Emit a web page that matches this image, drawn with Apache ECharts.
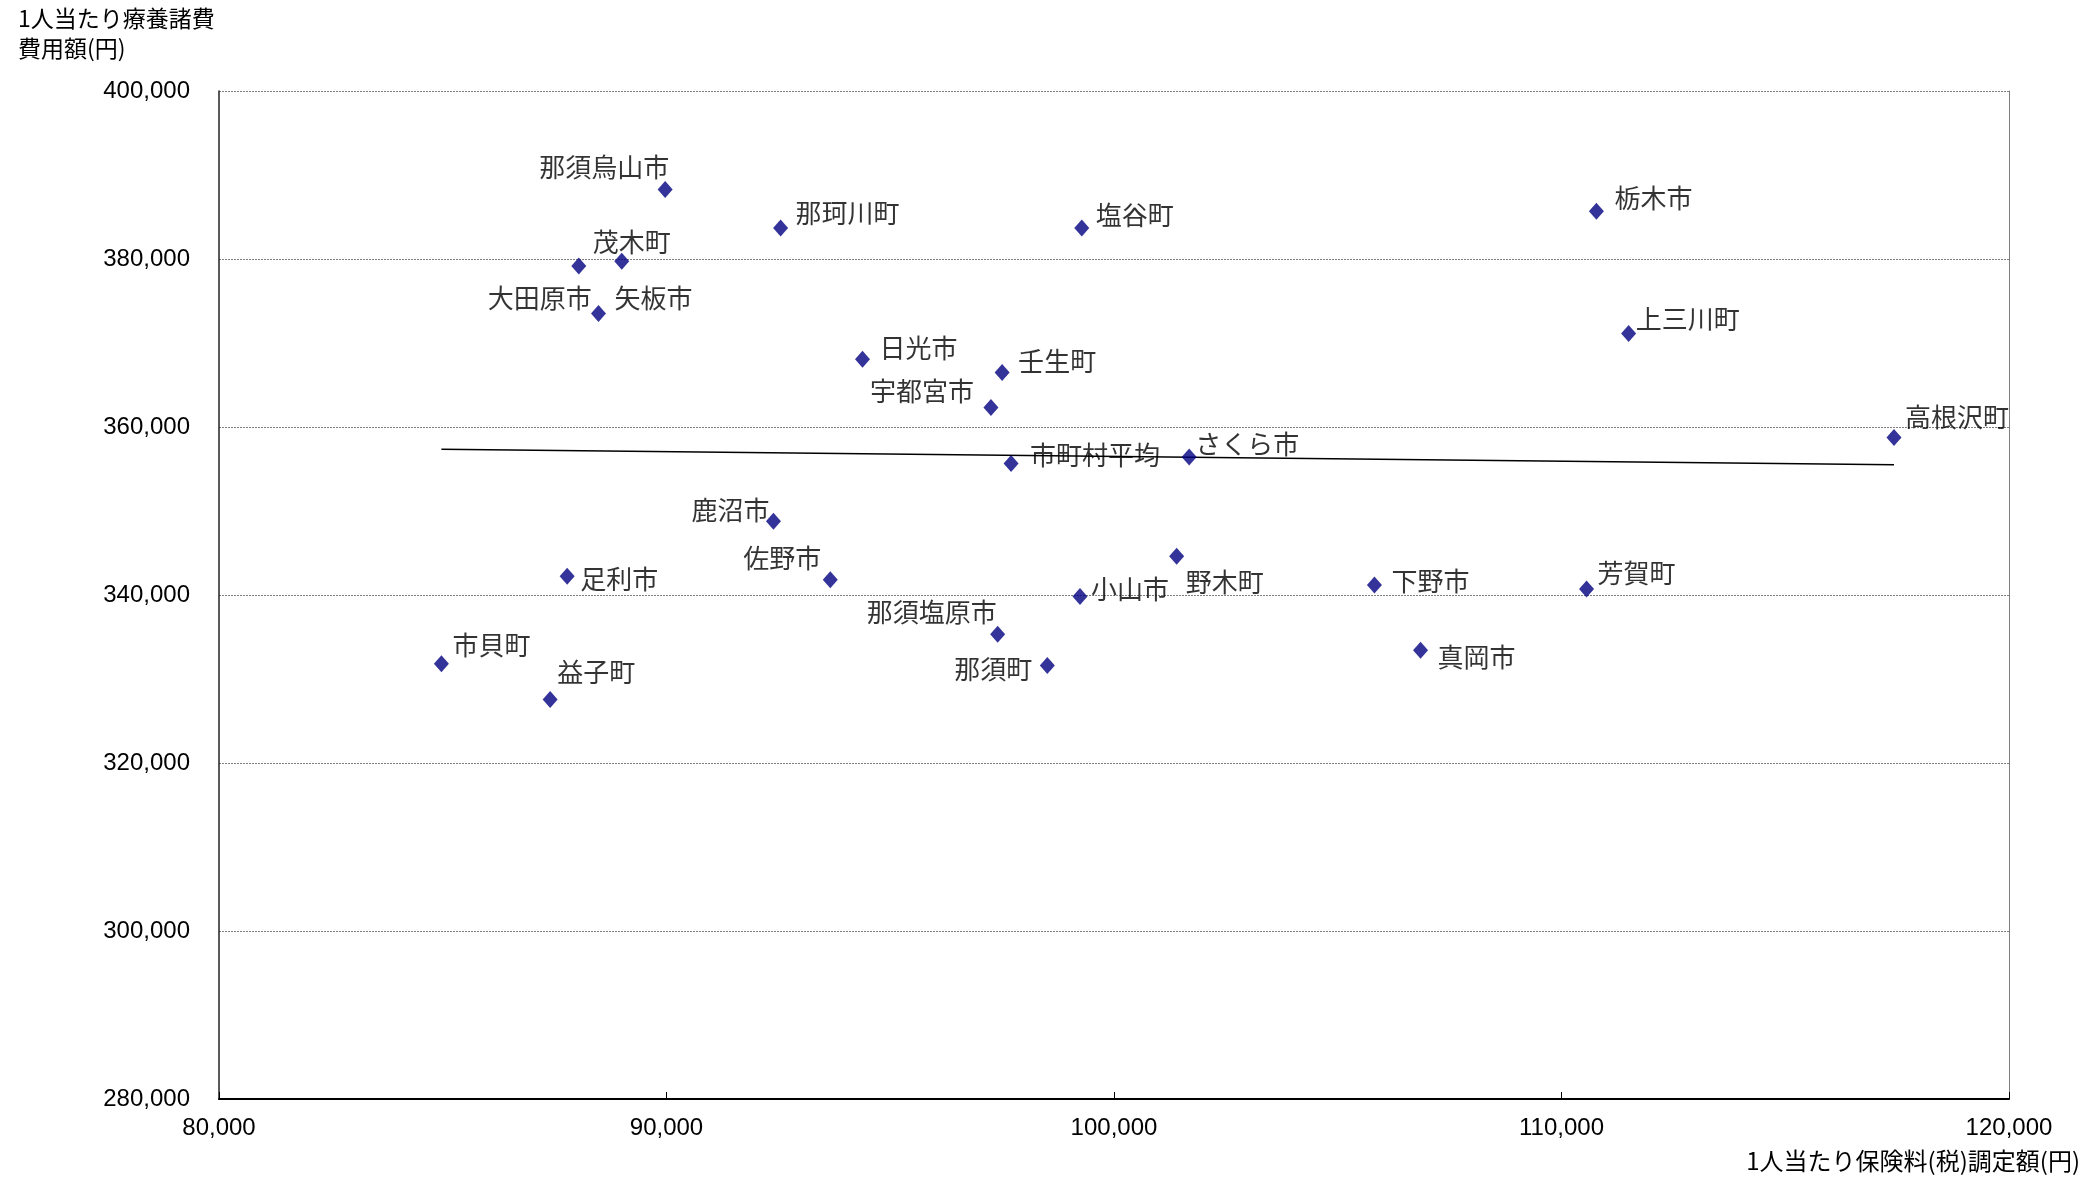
<!DOCTYPE html>
<html>
<head>
<meta charset="utf-8">
<script src="https://cdn.jsdelivr.net/npm/echarts@6/dist/echarts.min.js"></script>
<style>
html,body{margin:0;padding:0;background:#fff;}
#chart{width:2089px;height:1177px;}
</style>
</head>
<body>
<div id="chart"></div>
<script>
// ---- data ----
const names = ['那須烏山市','那珂川町','塩谷町','栃木市','茂木町','大田原市','矢板市','上三川町','日光市','壬生町','宇都宮市','高根沢町','市町村平均','さくら市','鹿沼市','足利市','佐野市','野木町','小山市','下野市','芳賀町','那須塩原市','真岡市','市貝町','那須町','益子町'];
// 1人当たり保険料(税)調定額(円)
const premium = [89970,92550,99280,110780,89000,88040,88480,111500,94380,97500,97250,117430,97700,101680,92390,87780,93660,101400,99240,105820,110560,97400,106850,84970,98510,87400];
// 1人当たり療養諸費費用額(円)
const medical = [388260,383690,383690,385680,379730,379170,373500,371120,368060,366480,362310,358740,355640,356430,348770,342230,341830,344610,339810,341190,340710,335320,333420,331830,331600,327550];
// trend line end points
const trendX = [84970, 117430];
const trendY = [357340, 355520];
// axis ticks
const xTicks = {min: 80000, max: 120000, step: 10000};
const yTicks = {min: 280000, max: 400000, step: 20000};
const yTitle = '1人当たり療養諸費\n費用額(円)';
const xTitle = '1人当たり保険料(税)調定額(円)';

// ---- styling: label offsets (px, label centre relative to marker centre) ----
const labelOffset = {
 '那須烏山市':[-61,-22],'那珂川町':[67,-15],'塩谷町':[53,-13],'栃木市':[57,-13],
 '茂木町':[10,-19],'大田原市':[-39,32],'矢板市':[55,-15],'上三川町':[59,-14],
 '日光市':[56,-11],'壬生町':[55,-11],'宇都宮市':[-69,-16],'高根沢町':[63,-20],
 '市町村平均':[84,-8],'さくら市':[58,-13],'鹿沼市':[-43,-11],'足利市':[52,3],
 '佐野市':[-48,-22],'野木町':[48,26],'小山市':[50,-7],'下野市':[56,-4],
 '芳賀町':[50,-16],'那須塩原市':[-66,-22],'真岡市':[56,7],'市貝町':[50,-19],
 '那須町':[-54,4],'益子町':[46,-27]
};

const fmt = v => v.toLocaleString('en-US');
const jp = '"Noto Sans CJK JP", "Noto Sans", sans-serif';
const num = '"Liberation Sans", Arial, sans-serif';

const chart = echarts.init(document.getElementById('chart'), null, {renderer:'canvas'});
const points = names.map((n,i)=>({name:n, value:[premium[i], medical[i]]}));

chart.setOption({
  animation:false,
  backgroundColor:'#fff',
  title:[
    {text:yTitle, left:18, top:3, padding:0,
     textStyle:{fontFamily:jp, fontSize:23, fontWeight:'normal', color:'#000', lineHeight:30}},
    {text:xTitle, right:9, top:1149, padding:0,
     textStyle:{fontFamily:jp, fontSize:24, fontWeight:'normal', color:'#000'}}
  ],
  grid:{left:219, right:80, top:91, bottom:78, containLabel:false},
  xAxis:{
    type:'value', min:xTicks.min, max:xTicks.max, interval:xTicks.step,
    axisLine:{show:true, onZero:false, lineStyle:{color:'#000', width:2}},
    axisTick:{show:true, inside:true, length:7, lineStyle:{color:'#000', width:1}},
    axisLabel:{margin:17, fontFamily:num, fontSize:24, color:'#000', formatter:fmt},
    splitLine:{show:false}
  },
  yAxis:[{
    type:'value', min:yTicks.min, max:yTicks.max, interval:yTicks.step,
    axisLine:{show:true, onZero:false, lineStyle:{color:'#222', width:1.5}},
    axisTick:{show:false},
    axisLabel:{margin:29, fontFamily:num, fontSize:24, color:'#000', formatter:fmt},
    splitLine:{show:true, lineStyle:{color:'#808080', width:1.2, type:[2,1]}}
  },{
    type:'value', position:'right', min:yTicks.min, max:yTicks.max, interval:yTicks.step,
    axisLine:{show:true, onZero:false, lineStyle:{color:'#808080', width:1}},
    axisTick:{show:false}, axisLabel:{show:false}, splitLine:{show:false}
  }],
  series:[
    {
      type:'line', silent:true, z:1,
      data:[[trendX[0],trendY[0]],[trendX[1],trendY[1]]],
      showSymbol:false, symbol:'none',
      lineStyle:{color:'#000', width:1.5}
    },
    {
      type:'scatter', z:3,
      symbol:'diamond', symbolSize:[15,17],
      itemStyle:{color:'#000080'},
      label:{show:true, position:'inside', align:'center', verticalAlign:'middle',
        formatter:p=>p.name, fontFamily:jp, fontSize:26, color:'#000'},
      labelLayout:function(params){
        const o = labelOffset[names[params.dataIndex]] || [50,-10];
        return {dx:o[0], dy:o[1], hideOverlap:false};
      },
      data:points
    }
  ]
});
</script>
</body>
</html>
